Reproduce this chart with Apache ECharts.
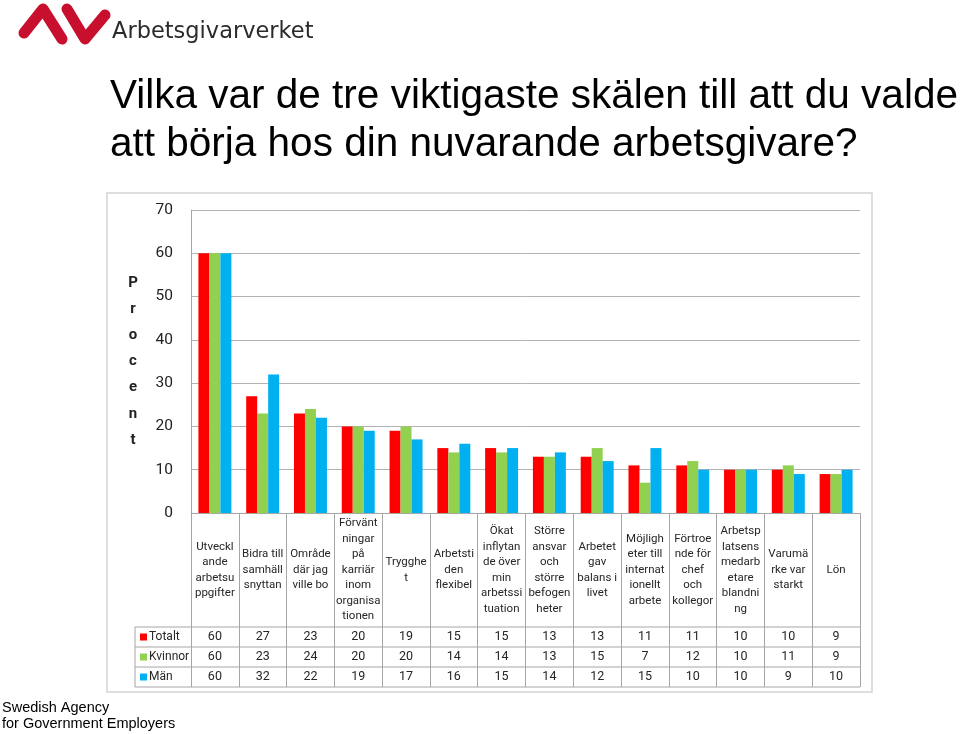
<!DOCTYPE html>
<html><head><meta charset="utf-8">
<script src="https://cdn.jsdelivr.net/npm/echarts@6/dist/echarts.min.js"></script>
<style>html,body{margin:0;padding:0;background:#fff}#c{width:960px;height:734px}</style>
</head><body><div id="c"></div>
<script>
const categories = [
  'Utveckl\nande\narbetsu\nppgifter',
  'Bidra till\nsamhäll\nsnyttan',
  'Område\ndär jag\nville bo',
  'Förvänt\nningar\npå\nkarriär\ninom\norganisa\ntionen',
  'Trygghe\nt',
  'Arbetsti\nden\nflexibel',
  'Ökat\ninflytan\nde över\nmin\narbetssi\ntuation',
  'Större\nansvar\noch\nstörre\nbefogen\nheter',
  'Arbetet\ngav\nbalans i\nlivet',
  'Möjligh\neter till\ninternat\nionellt\narbete',
  'Förtroe\nnde för\nchef\noch\nkollegor',
  'Arbetsp\nlatsens\nmedarb\netare\nblandni\nng',
  'Varumä\nrke var\nstarkt',
  'Lön'
];
const totalt  = [60, 27, 23, 20, 19, 15, 15, 13, 13, 11, 11, 10, 10, 9];
const kvinnor = [60, 23, 24, 20, 20, 14, 14, 13, 15, 7, 12, 10, 11, 9];
const man     = [60, 32, 22, 19, 17, 16, 15, 14, 12, 15, 10, 10, 9, 10];
const seriesNames = ['Totalt', 'Kvinnor', 'Män'];
const seriesColors = ['#ff0000', '#92d050', '#00b0f0'];
const yMin = 0, yMax = 70, yStep = 10;
const titleText = 'Vilka var de tre viktigaste skälen till att du valde\natt börja hos din nuvarande arbetsgivare?';
const yName = 'Procent';

// layout
const L = 191, R = 860, T = 210, B = 513;
const headerH = 114, rowH = 20, tableLeft = 135;
const lineCol = '#a6a6a6';
const FONT = 'Roboto';

const chart = echarts.init(document.getElementById('c'), null, {renderer: 'canvas'});
const rows = [totalt, kvinnor, man];

const xAxes = [{
  type: 'category', gridIndex: 0, position: 'bottom', data: categories,
  axisLine: {show: true, lineStyle: {color: lineCol}},
  axisTick: {show: true, interval: 0, length: headerH + 3 * rowH, lineStyle: {color: lineCol}},
  axisLabel: {interval: 0, margin: headerH / 2, verticalAlign: 'middle', align: 'center',
    fontSize: 11.5, lineHeight: 15.5, color: '#262626', fontFamily: FONT}
}];
rows.forEach((arr, i) => {
  xAxes.push({
    type: 'category', gridIndex: 0, position: 'bottom', data: arr.map(String),
    axisLine: {show: false}, axisTick: {show: false}, splitLine: {show: false},
    axisLabel: {interval: 0, margin: headerH + rowH * i + rowH / 2, verticalAlign: 'middle',
      fontSize: 12.5, color: '#262626', fontFamily: FONT}
  });
});

const graphics = [
  {type: 'rect', silent: true, z: -1, shape: {x: 107, y: 193, width: 765, height: 499},
    style: {fill: 'none', stroke: '#d4d4d4', lineWidth: 1.5}},
  {type: 'line', silent: true, shape: {x1: tableLeft, y1: B + headerH, x2: tableLeft, y2: B + headerH + 3 * rowH},
    style: {stroke: lineCol, lineWidth: 1}},
  // logo
  {type: 'polyline', silent: true, shape: {points: [[24, 33], [43, 9], [62, 39]]},
    style: {stroke: '#c8102e', lineWidth: 11, lineCap: 'round', lineJoin: 'round', fill: 'none'}},
  {type: 'polyline', silent: true, shape: {points: [[67, 9], [85, 39], [105, 15]]},
    style: {stroke: '#c8102e', lineWidth: 11, lineCap: 'round', lineJoin: 'round', fill: 'none'}},
  {type: 'text', silent: true, left: 112, top: 21,
    style: {text: 'Arbetsgivarverket', fontSize: 22.5, fontFamily: 'DejaVu Sans', fill: '#2b2b2b'}},
  {type: 'text', silent: true, left: 2, top: 700,
    style: {text: 'Swedish Agency\nfor Government Employers', fontSize: 14.5, lineHeight: 16,
      fontFamily: 'Liberation Sans', fill: '#000'}}
];
for (let k = 0; k <= 3; k++) {
  const y = B + headerH + k * rowH;
  graphics.push({type: 'line', silent: true, shape: {x1: tableLeft, y1: y, x2: R, y2: y},
    style: {stroke: lineCol, lineWidth: 1}});
}

const option = {
  animation: false,
  backgroundColor: '#fff',
  title: {text: titleText, left: 105, top: 68,
    textStyle: {fontSize: 40.5, fontWeight: 'normal', fontFamily: 'Liberation Sans', color: '#000', lineHeight: 48}},
  grid: {left: L, top: T, width: R - L, height: B - T, containLabel: false},
  legend: {orient: 'vertical', left: tableLeft + 5, top: B + headerH, itemGap: 0, itemWidth: 7, itemHeight: 7,
    padding: 0, icon: 'rect', selectedMode: false, data: seriesNames,
    textStyle: {fontSize: 12, color: '#262626', lineHeight: rowH, fontFamily: FONT, padding: [0, 0, 0, -3]}},
  xAxis: xAxes,
  yAxis: {type: 'value', min: yMin, max: yMax, interval: yStep,
    axisLine: {show: true, lineStyle: {color: lineCol}},
    axisTick: {show: false},
    splitLine: {lineStyle: {color: '#b3b3b3'}},
    axisLabel: {margin: 18, fontSize: 15.5, color: '#222', fontFamily: FONT},
    name: yName.split('').join('\n'), nameLocation: 'middle', nameRotate: 0, nameGap: 58,
    nameTextStyle: {fontWeight: 'bold', fontSize: 15, lineHeight: 26.2, color: '#222', align: 'center', fontFamily: FONT}},
  series: rows.map((arr, i) => ({
    name: seriesNames[i], type: 'bar', xAxisIndex: 0, data: arr,
    barGap: '0%', barCategoryGap: '31%', itemStyle: {color: seriesColors[i]}
  })),
  graphic: graphics
};
chart.setOption(option);
</script></body></html>
